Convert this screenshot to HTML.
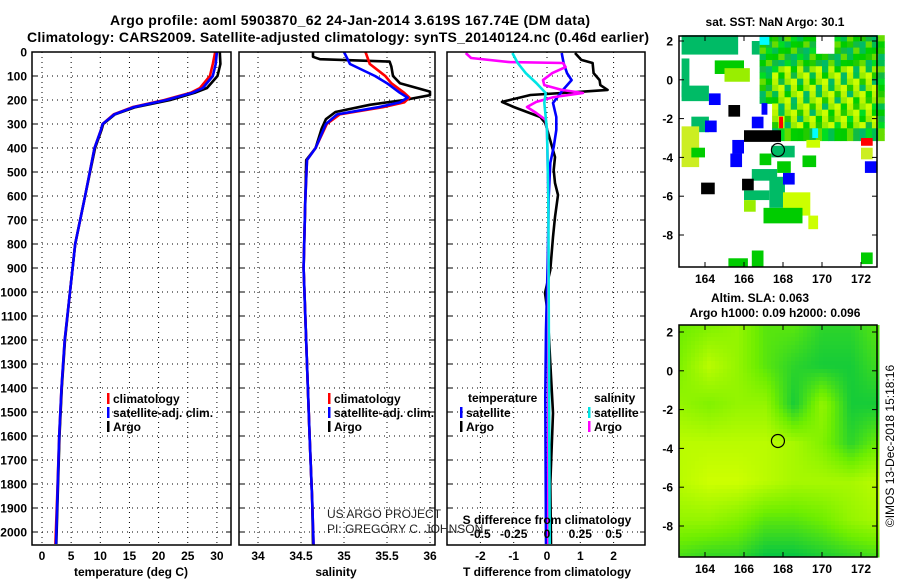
<!DOCTYPE html>
<html><head><meta charset="utf-8"><style>
body{margin:0;background:#fff}
svg{display:block;font-family:"Liberation Sans",sans-serif}
.b{font-weight:bold;font-size:12px}
.t{font-weight:bold;font-size:14px}
</style></head><body>
<svg id="s" width="900" height="580" viewBox="0 0 900 580" xmlns="http://www.w3.org/2000/svg">
<text class="t" x="350" y="25" text-anchor="middle" textLength="480">Argo profile: aoml 5903870_62 24-Jan-2014 3.619S 167.74E (DM data)</text>
<text class="t" x="338" y="42" text-anchor="middle" textLength="622">Climatology: CARS2009. Satellite-adjusted climatology: synTS_20140124.nc (0.46d earlier)</text>
<g id="g"></g>
</svg>
<script>
// ---- data ----
const depthTicks=[0,100,200,300,400,500,600,700,800,900,1000,1100,1200,1300,1400,1500,1600,1700,1800,1900,2000];
const tempTicks=[0,5,10,15,20,25,30];
const salTicks=[34,34.5,35,35.5,36];
const tdiffTicks=[-2,-1,0,1,2];
const sdiffTicks=["-0.5","-0.25","0","0.25","0.5"];
const sdiffVals=[-0.5,-0.25,0,0.25,0.5];

const argoTD=[0,50,100,150,170,200,230,260,300,325,400,600,800,1000,1200,1400,1600,1850,2050];
const argoT=[30.5,30.6,30.1,28.3,26.2,22,16,12.5,10.5,10.2,9.1,7.4,5.7,4.8,3.95,3.4,3.0,2.7,2.45];
const climT=[29.7,29.3,28.8,27.1,25.5,21,15.5,12.3,10.4,10.1,9.0,7.4,5.7,4.8,3.9,3.35,2.95,2.6,2.3];
const satT=[30.0,29.8,29.3,27.6,25.8,21.3,15.7,12.4,10.4,10.1,9.0,7.4,5.7,4.8,3.9,3.35,2.95,2.65,2.4];

const argoSD=[0,20,30,40,60,100,130,165,180,200,220,250,280,320,400,450,617,900,1300,1600,1870,2050];
const argoS=[34.64,34.64,34.72,35.53,35.55,35.57,35.65,36.0,36.0,35.7,35.3,34.9,34.79,34.74,34.67,34.56,34.55,34.53,34.57,34.6,34.63,34.64];
const climSD=[0,50,100,130,170,190,210,230,260,300,400,450,617,900,1300,1600,1870,2100];
const satS=[35.0,35.07,35.36,35.5,35.65,35.74,35.65,35.4,34.92,34.79,34.67,34.57,34.55,34.53,34.57,34.6,34.63,34.65];
const climS=[35.25,35.3,35.48,35.55,35.7,35.76,35.7,35.45,34.95,34.8,34.67,34.57,34.55,34.53,34.57,34.6,34.63,34.65];

const dTargoD=[4,33,46,88,117,138,158,167,179,208,229,271,296,438,492,546,596,688,771,908,1004,1088,1296,1504,1800,2050];
const dTargo=[0.84,1.03,1.37,1.4,1.58,1.6,1.82,0.89,-0.5,-1.35,-1.0,-0.2,-0.05,0.24,0.2,0.24,0.33,0.24,0.18,0.1,-0.06,0.02,0.1,0.18,0.1,0.12];
const dTsatD=[4,46,88,117,158,212,271,325,396,462,604,879,1158,1438,2050];
const dTsat=[0.44,0.5,0.6,0.74,0.48,0.18,0.28,0.28,0.2,0.1,0.05,0.02,-0.03,-0.05,-0.03];
const dSargoD=[4,25,42,46,63,88,117,138,158,171,188,208,229,254,283,325,604,1296,2050];
const dSargo=[-0.61,-0.57,-0.28,0.12,0.14,0.04,-0.03,-0.02,0.11,0.27,0.05,-0.08,-0.15,-0.08,-0.01,0,0.01,0.01,0.01];
const dSsatD=[4,46,88,129,171,212,271,325,604,2050];
const dSsat=[-0.26,-0.22,-0.16,-0.08,-0.01,-0.02,-0.01,0,0.01,0.02];

const latTicks=[2,0,-2,-4,-6,-8];
const lonTicks=[164,166,168,170,172];
const argoLon=167.74, argoLat=-3.619;
// SLA coarse field (0 = yellow, 1 = green), rows lat 2..-9.5, cols lon 162.7..172.9
const slaGrid=[
[0.5,0.4,0.3,0.6,0.6,0.8,0.8,0.6],
[0.4,0.1,0.3,0.6,0.8,0.9,0.9,0.7],
[0.3,0.4,0.3,0.3,0.9,0.3,0.9,0.9],
[0.1,0.1,0.1,0.1,0.2,0.4,0.8,0.5],
[0.1,0.0,0.0,0.1,0.2,0.2,0.2,0.1],
[0.3,0.3,0.4,0.6,0.6,0.5,0.3,0.2],
[0.7,0.8,0.8,1.0,1.0,0.9,0.8,0.7]];
const TE='#00bb66',GR='#00cc00',LI='#ccff00',YG='#99ee00',BL='#0000ff',BK='#000000',CY='#00ffff',RD='#ff0000';
const sstRects=[
[162.8,2.3,165.7,1.3,TE],[166.4,2.0,166.8,1.3,TE],[162.8,1.1,163.2,-0.9,TE],[162.8,-0.3,164.2,-1.1,TE],
[164.5,1.0,166.0,0.3,GR],[165.0,0.6,166.3,-0.1,YG],[163.3,-1.9,164.2,-2.7,TE],[162.8,-2.4,163.7,-4.5,'#ccee22'],
[163.3,-3.5,164.0,-4.0,GR],[166.8,-3.8,167.4,-4.4,GR],[167.4,-3.4,168.6,-4.0,TE],[166.4,-4.6,167.7,-5.2,TE],
[167.7,-4.2,168.4,-4.8,GR],[167.3,-5.0,168.1,-6.6,TE],[166.0,-5.7,167.3,-6.2,TE],[166.0,-6.2,166.6,-6.8,YG],
[168.0,-5.8,169.4,-7.0,LI],[167.0,-6.6,169.0,-7.4,GR],[169.3,-7.0,169.8,-7.7,LI],[169.0,-3.9,169.7,-4.5,GR],
[169.2,-3.1,169.9,-3.5,LI],[172.0,-3.5,172.6,-4.1,'#ccee22'],[165.2,-9.2,166.2,-9.65,GR],[166.4,-8.8,167.0,-9.65,GR],
[172.0,-8.9,172.6,-9.5,GR],
[164.2,-0.7,164.8,-1.3,BL],[165.2,-1.3,165.8,-1.9,BK],[164.0,-2.1,164.6,-2.7,BL],[165.4,-3.1,166.0,-3.8,BL],
[165.3,-3.8,165.9,-4.5,BL],[166.0,-2.6,167.9,-3.2,BK],[166.4,-1.9,167.0,-2.5,BL],[167.8,-1.9,168.0,-2.5,RD],
[168.0,-4.8,168.6,-5.4,BL],[163.8,-5.3,164.5,-5.9,BK],[165.9,-5.1,166.5,-5.7,BK],[172.2,-4.2,172.8,-4.8,BL],
[172.0,-3.0,172.6,-3.4,RD],[166.8,2.3,167.3,1.8,CY],[166.9,-1.2,167.2,-1.8,BL],[169.5,-2.5,169.8,-3.0,CY]];

// ---- drawing ----
const NS='http://www.w3.org/2000/svg', G=document.getElementById('g');
function el(t,a,p){const e=document.createElementNS(NS,t);for(const k in a)e.setAttribute(k,a[k]);(p||G).appendChild(e);return e;}
function txt(x,y,s,cls,anchor,p){const e=el('text',{x:x,y:y,class:cls||'b','text-anchor':anchor||'middle'},p);e.textContent=s;return e;}
const Y0=52,Yb=545;
const yD=d=>Y0+d*0.24;
const xT=v=>42+v*5.83, xS=v=>258+(v-34)*86, xdT=v=>547+v*33.3, xdS=v=>547+v*133.2;
const panels=[[32,231],[239,435],[447,645]];
const clip=el('defs',{});
panels.forEach((p,i)=>{const c=el('clipPath',{id:'c'+i},clip);el('rect',{x:p[0],y:Y0,width:p[1]-p[0],height:Yb-Y0},c);});

function grid(p,xs,name){
  const g=el('g',{});
  
  
  depthTicks.forEach(d=>{el('line',{x1:p[0],x2:p[1],y1:yD(d),y2:yD(d),stroke:'#000','stroke-width':1,'stroke-dasharray':'1,4'},g);
    el('line',{x1:p[0],x2:p[0]+5,y1:yD(d),y2:yD(d),stroke:'#000'},g);el('line',{x1:p[1]-5,x2:p[1],y1:yD(d),y2:yD(d),stroke:'#000'},g);});
  xs.forEach(x=>el('line',{x1:x,x2:x,y1:Y0,y2:Yb,stroke:'#000','stroke-width':1,'stroke-dasharray':'1,4'},g));
}
grid(panels[0],tempTicks.map(xT),'temperature-grid');
grid(panels[1],salTicks.map(xS),'salinity-grid');
grid(panels[2],tdiffTicks.map(xdT),'difference-grid');

function line(ds,vs,fx,color,ci,name){
  const pts=ds.map((d,i)=>fx(vs[i]).toFixed(1)+','+yD(d).toFixed(1)).join(' ');
  const e=el('polyline',{points:pts,fill:'none',stroke:color,'stroke-width':2.6,'stroke-linejoin':'round','clip-path':'url(#c'+ci+')'});
  
  
}
line(argoTD,argoT,xT,'#000',0,'temp-argo-line');
line(argoTD,climT,xT,'#ff0000',0,'temp-climatology-line');
line(argoTD,satT,xT,'#0000ff',0,'temp-satellite-line');
line(argoSD,argoS,xS,'#000',1,'salinity-argo-line');
line(climSD,climS,xS,'#ff0000',1,'salinity-climatology-line');
line(climSD,satS,xS,'#0000ff',1,'salinity-satellite-line');
line(dTargoD,dTargo,xdT,'#000',2,'tdiff-argo-line');
line(dTsatD,dTsat,xdT,'#0000ff',2,'tdiff-satellite-line');
line(dSargoD,dSargo,xdS,'#ff00ff',2,'sdiff-argo-line');
line(dSsatD,dSsat,xdS,'#00e5e5',2,'sdiff-satellite-line');

panels.forEach((p,i)=>{const r=el('rect',{x:p[0],y:Y0,width:p[1]-p[0],height:Yb-Y0,fill:'none',stroke:'#000','stroke-width':1.5});
  
  });
depthTicks.forEach(d=>{const t=txt(27,yD(d)+4.5,String(d),'b','end');
  
  });
tempTicks.forEach(v=>{const t=txt(xT(v),560,String(v));
  
  });
salTicks.forEach(v=>{const t=txt(xS(v),560,String(v));
  
  });
tdiffTicks.forEach(v=>{const t=txt(xdT(v),560,String(v));
  
  });
sdiffVals.forEach((v,i)=>{const t=txt(xdS(v),538,sdiffTicks[i]);
  
  });
[[131,'temperature (deg C)','x-axis-title-temperature'],[336,'salinity','x-axis-title-salinity'],[547,'T difference from climatology','x-axis-title-tdiff']].forEach(a=>{
  const t=txt(a[0],576,a[1]);});
{const t=txt(547,524,'S difference from climatology');}
{const t=txt(327,518,'US ARGO PROJECT','n','start');t.setAttribute('font-size','12');t.setAttribute('fill','#222');
 const u=txt(327,533,'PI: GREGORY C. JOHNSON','n','start');u.setAttribute('font-size','12');u.setAttribute('fill','#222');}

function legend(x,y,color,label){
  const g=el('g',{});
  
  
  el('rect',{x:x,y:y-9,width:2.5,height:11,fill:color},g);
  txt(x+6,y+1,label,'b','start',g);
}
legend(107,402,'#ff0000','climatology');legend(107,416,'#0000ff','satellite-adj. clim.');legend(107,430,'#000','Argo');
legend(328,402,'#ff0000','climatology');legend(328,416,'#0000ff','satellite-adj. clim.');legend(328,430,'#000','Argo');
{const t=txt(468,402,'temperature','b','start');}
legend(460,416,'#0000ff','satellite');legend(460,430,'#000','Argo');
{const t=txt(594,402,'salinity','b','start');}
legend(588,416,'#00e5e5','satellite');legend(588,430,'#ff00ff','Argo');

// ---- maps ----
const MX0=679,MX1=877;
const mx=l=>705+(l-164)*19.5;
function mapFrame(top,bot,latTop,name){
  const my=la=>latTop+(2-la)*19.4;
  const f=el('rect',{x:MX0,y:top,width:MX1-MX0,height:bot-top,fill:'none',stroke:'#000','stroke-width':1.5});
  
  
  latTicks.forEach(la=>{el('line',{x1:MX0,x2:MX0+5,y1:my(la),y2:my(la),stroke:'#000'});el('line',{x1:MX1-5,x2:MX1,y1:my(la),y2:my(la),stroke:'#000'});
    const t=txt(673,my(la)+4.5,String(la),'b','end');});
  lonTicks.forEach(lo=>{el('line',{x1:mx(lo),x2:mx(lo),y1:bot-5,y2:bot,stroke:'#000'});el('line',{x1:mx(lo),x2:mx(lo),y1:top,y2:top+5,stroke:'#000'});
    const t=txt(mx(lo),bot+16,String(lo));});
  const c=el('circle',{cx:mx(argoLon),cy:my(argoLat),r:6.5,fill:'none',stroke:'#000','stroke-width':1.2});
  
  
}
// SST map
{const my=la=>41+(2-la)*19.4;
 const g=el('g',{});
 
 
 const pal=[TE,GR,'#00dd22','#22cc00','#00c050','#11bb44','#00d000'];
 for(let lo=166.8;lo<172.9;lo+=0.32){for(let la=2.3;la>-2.9;la-=0.32){
   if(lo<167.3&&la<-1.1)continue; if(lo>169.6&&lo<170.4&&la>1.5)continue;
   const i=Math.round(lo*3),j=Math.round(la*3);let c=pal[(i*37+j*17)%7];
   const k=(i*13+j*29)%5;
   if(la<0.8&&la>-2.2&&lo>167.4&&lo<172.8&&k<3)c=(k==0)?LI:(k==1?'#bbf500':YG);
   else if(k==0)c='#66dd00';
   el('rect',{x:mx(lo),y:my(la),width:6.6,height:6.6,fill:c},g);}}
 sstRects.forEach(r=>el('rect',{x:mx(r[0]),y:my(r[1]),width:(r[2]-r[0])*19.5,height:(r[1]-r[3])*19.4,fill:r[4]},g));
 const t=txt(775,26,'sat. SST: NaN Argo: 30.1');
 mapFrame(36,267,41,'sst-map');}
// SLA map
{const my=la=>332+(2-la)*19.4;
 const g=el('g',{});
 
 
 const stops=[[205,255,0],[110,238,0],[0,195,70]];
 function col(v){const s=v<0.5?0:1,f=(v-s*0.5)*2;const a=stops[s],b=stops[s+1];return 'rgb('+a.map((c,i)=>Math.round(c+(b[i]-c)*f)).join(',')+')';}
 const nc=slaGrid[0].length,nr=slaGrid.length;const W=MX1-MX0,H=557-325,cs=4;
 for(let y=0;y<H;y+=cs)for(let x=0;x<W;x+=cs){
   const fx=x/W*(nc-1),fy=y/H*(nr-1);const i=Math.min(Math.floor(fx),nc-2),j=Math.min(Math.floor(fy),nr-2);const u=fx-i,v=fy-j;
   const val=slaGrid[j][i]*(1-u)*(1-v)+slaGrid[j][i+1]*u*(1-v)+slaGrid[j+1][i]*(1-u)*v+slaGrid[j+1][i+1]*u*v;
   el('rect',{x:MX0+x,y:325+y,width:cs+0.5,height:cs+0.5,fill:col(val)},g);}
 const t1=txt(760,302,'Altim. SLA: 0.063');
 const t2=txt(775,317,'Argo h1000: 0.09 h2000: 0.096');
 mapFrame(325,557,332,'sla-map');}
{const t=txt(0,0,'©IMOS 13-Dec-2018 15:18:16','n','middle');t.setAttribute('font-size','12');t.setAttribute('transform','translate(894,446) rotate(-90)');
 }
</script>
</body></html>
